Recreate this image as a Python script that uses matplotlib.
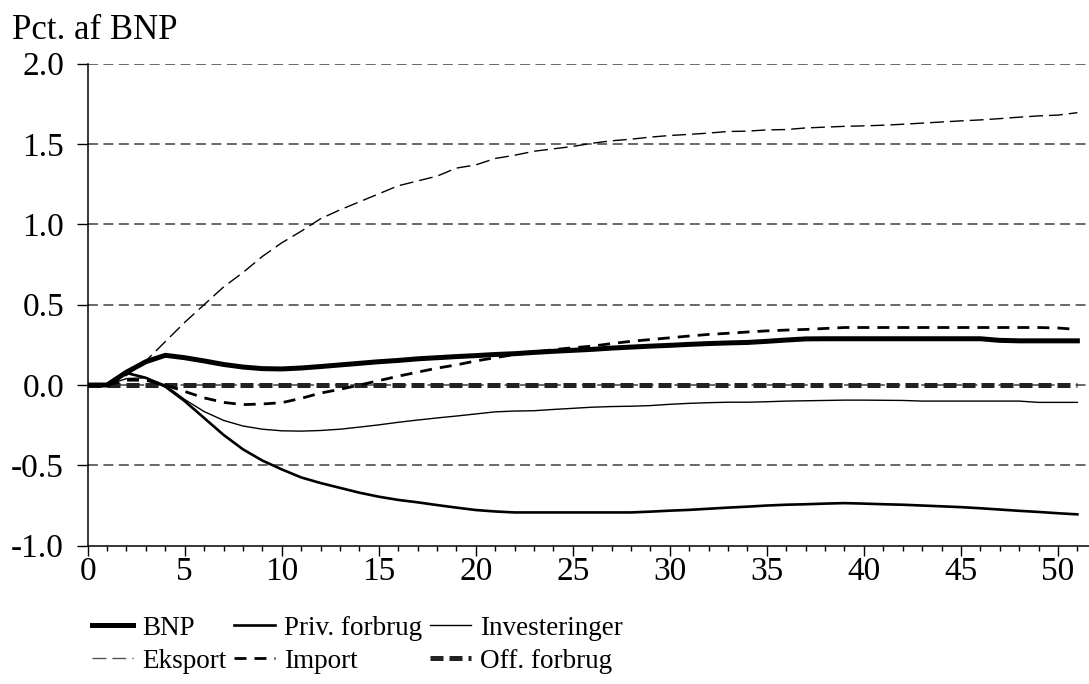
import matplotlib
matplotlib.use("Agg")
import matplotlib.pyplot as plt
from matplotlib.ticker import MultipleLocator, FuncFormatter

plt.rcParams["font.family"] = ["Liberation Serif", "DejaVu Serif"]
plt.rcParams["axes.unicode_minus"] = False

# Kvartaler efter stødet
kvartal = list(range(52))

bnp = [0, 0, 0.08, 0.145, 0.185, 0.17, 0.15, 0.128, 0.112, 0.102,
       0.10, 0.106, 0.115, 0.125, 0.135, 0.145, 0.153, 0.163, 0.17, 0.177,
       0.183, 0.19, 0.195, 0.203, 0.21, 0.216, 0.222, 0.23, 0.236, 0.242,
       0.247, 0.253, 0.258, 0.262, 0.265, 0.272, 0.28, 0.287, 0.288, 0.288,
       0.288, 0.288, 0.288, 0.288, 0.288, 0.288, 0.288, 0.278, 0.275, 0.275,
       0.275, 0.275]
priv_forbrug = [0, 0, 0.075, 0.045, -0.01, -0.1, -0.205, -0.31, -0.40, -0.47,
                -0.525, -0.575, -0.61, -0.64, -0.67, -0.695, -0.715, -0.73, -0.747, -0.763,
                -0.778, -0.787, -0.793, -0.793, -0.793, -0.793, -0.793, -0.793, -0.793, -0.788,
                -0.782, -0.777, -0.77, -0.763, -0.757, -0.75, -0.745, -0.742, -0.738, -0.735,
                -0.738, -0.742, -0.745, -0.75, -0.755, -0.76, -0.767, -0.775, -0.783, -0.79,
                -0.798, -0.805]
investeringer = [0, 0, 0.04, 0.045, 0, -0.09, -0.165, -0.22, -0.255, -0.275,
                 -0.285, -0.287, -0.283, -0.275, -0.262, -0.248, -0.232, -0.218, -0.205, -0.193,
                 -0.18, -0.167, -0.162, -0.16, -0.152, -0.145, -0.138, -0.134, -0.132, -0.128,
                 -0.12, -0.114, -0.11, -0.107, -0.107, -0.104, -0.1, -0.098, -0.096, -0.094,
                 -0.094, -0.095, -0.096, -0.1, -0.1, -0.1, -0.1, -0.1, -0.1, -0.108,
                 -0.108, -0.108]
eksport = [0, 0, 0.06, 0.15, 0.27, 0.39, 0.5, 0.61, 0.70, 0.80,
           0.885, 0.957, 1.035, 1.09, 1.14, 1.19, 1.24, 1.27, 1.30, 1.35,
           1.37, 1.41, 1.43, 1.455, 1.47, 1.485, 1.505, 1.52, 1.53, 1.543,
           1.553, 1.56, 1.568, 1.578, 1.58, 1.588, 1.59, 1.60, 1.605, 1.61,
           1.613, 1.617, 1.623, 1.63, 1.637, 1.644, 1.65, 1.658, 1.667, 1.675,
           1.68, 1.695]
import_ = [0, 0, 0.03, 0.03, 0, -0.04, -0.08, -0.108, -0.122, -0.118,
           -0.11, -0.083, -0.05, -0.027, 0, 0.027, 0.055, 0.08, 0.105, 0.125,
           0.15, 0.17, 0.19, 0.205, 0.22, 0.232, 0.242, 0.258, 0.272, 0.283,
           0.294, 0.305, 0.315, 0.322, 0.33, 0.337, 0.342, 0.346, 0.352, 0.358,
           0.358, 0.358, 0.358, 0.358, 0.358, 0.358, 0.358, 0.358, 0.358, 0.358,
           0.355, 0.346]
off_forbrug = [0, 0, 0, 0, 0, 0, 0, 0, 0, 0,
               0, 0, 0, 0, 0, 0, 0, 0, 0, 0,
               0, 0, 0, 0, 0, 0, 0, 0, 0, 0,
               0, 0, 0, 0, 0, 0, 0, 0, 0, 0,
               0, 0, 0, 0, 0, 0, 0, 0, 0, 0,
               0, 0]

fig = plt.figure(figsize=(10.89, 6.84), dpi=100)
ax = fig.add_axes([0.0805, 0.2022, 0.9195, 0.7047])

# gitterlinjer
for y in [-0.5, 0.0, 0.5, 1.0, 1.5, 2.0]:
    ax.axhline(y, color="#404040", lw=1.1, ls=(0, (6.5, 3.6)), zorder=1)

ax.plot(kvartal, off_forbrug, color="#222222", lw=3.6, ls=(0, (2.6, 1.2)),
        label="Off. forbrug", zorder=2)
ax.plot(kvartal, eksport, color="black", lw=1.0, ls=(0, (10, 4.3)),
        label="Eksport", zorder=3)
ax.plot(kvartal, import_, color="black", lw=2.0, ls=(0, (4.3, 2.9)),
        label="Import", zorder=3)
ax.plot(kvartal, investeringer, color="black", lw=1.0, label="Investeringer", zorder=4)
ax.plot(kvartal, priv_forbrug, color="black", lw=1.9, label="Priv. forbrug", zorder=4)
ax.plot(kvartal, bnp, color="black", lw=3.6, label="BNP", zorder=5)

ax.set_xlim(0, 51.6)
ax.set_ylim(-1.0, 2.0)
ax.spines["top"].set_visible(False)
ax.spines["right"].set_visible(False)
ax.spines["left"].set_linewidth(1.1)
ax.spines["bottom"].set_linewidth(1.1)

ax.xaxis.set_major_locator(MultipleLocator(5))
ax.xaxis.set_minor_locator(MultipleLocator(1))
ax.yaxis.set_major_locator(MultipleLocator(0.5))
ax.yaxis.set_major_formatter(FuncFormatter(lambda v, p: f"{v:.1f}"))
ax.tick_params(axis="x", which="major", direction="out", length=7, width=1.0,
               labelsize=24, pad=1)
ax.tick_params(axis="x", which="minor", direction="out", length=3.5, width=1.0)
ax.tick_params(axis="y", which="major", direction="out", length=8, width=1.0,
               labelsize=24, pad=9)

fig.text(12 / 1089, 1 - 39 / 684, "Pct. af BNP", fontsize=25,
         ha="left", va="baseline")

handles, labels = ax.get_legend_handles_labels()
order = ["BNP", "Eksport", "Priv. forbrug", "Import", "Investeringer", "Off. forbrug"]
lookup = dict(zip(labels, handles))
leg = fig.legend([lookup[k] for k in order], order, loc="upper left",
                 bbox_to_anchor=(0.0845, 0.1), ncol=3, frameon=False,
                 fontsize=19.5, handlelength=1.5, handletextpad=0.34,
                 labelspacing=0.3, columnspacing=0.3, borderpad=0,
                 borderaxespad=0)
for line in leg.get_lines():
    if line.get_label() == "Eksport":
        line.set_color("#555555")

fig.savefig("out.png", dpi=100)
